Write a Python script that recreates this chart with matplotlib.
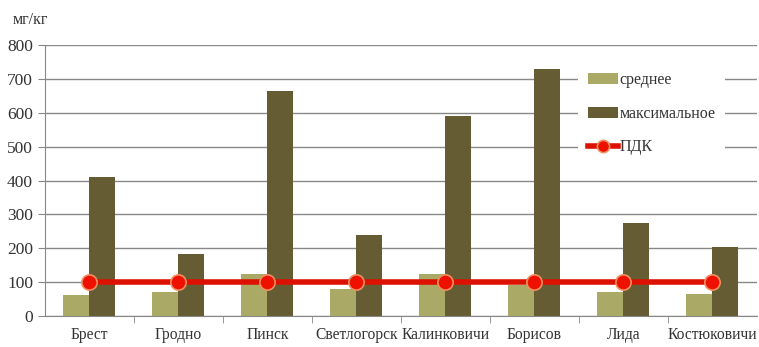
import numpy as np
import matplotlib.pyplot as plt

plt.rcParams['font.family'] = ['Liberation Serif', 'DejaVu Serif']

cities = ["Брест", "Гродно", "Пинск", "Светлогорск", "Калинковичи",
          "Борисов", "Лида", "Костюковичи"]
mean_vals = [62, 71, 124, 80, 124, 91, 71, 65]
max_vals = [410, 183, 664, 239, 590, 729, 274, 203]
pdk_vals = [100, 100, 100, 100, 100, 100, 100, 100]

c_mean = "#aaaa66"
c_max = "#665c34"
c_text = "#333333"

fig = plt.figure(figsize=(7.59, 3.47), dpi=100)
ax = fig.add_axes([0.059, 0.089, 0.938, 0.781])

x = np.arange(len(cities))
w = 0.29
b1 = ax.bar(x - w / 2, mean_vals, w, color=c_mean, label="среднее", zorder=2)
b2 = ax.bar(x + w / 2, max_vals, w, color=c_max, label="максимальное", zorder=2)
ln, = ax.plot(x, pdk_vals, color="#dd1100", lw=4, marker="o", ms=11,
              mfc="#ee1100", mec="#f09060", mew=1.2, label="ПДК", zorder=3)

ax.set_xlim(-0.5, len(cities) - 0.5)
ax.set_ylim(0, 800)
ax.set_yticks(range(0, 801, 100))
ax.yaxis.grid(True, color="#888888", lw=1, zorder=0)
ax.set_axisbelow(True)

ax.set_xticks(x)
ax.set_xticklabels(cities)
ax.set_xticks(np.arange(0.5, len(cities) - 0.5, 1), minor=True)
ax.tick_params(axis="x", which="major", length=0, pad=8, labelsize=11.2, colors=c_text)
ax.tick_params(axis="x", which="minor", length=5, color="#888888")
ax.tick_params(axis="y", length=5, color="#888888", labelsize=12.5, colors=c_text)

for s in ["top", "right"]:
    ax.spines[s].set_visible(False)
for s in ["left", "bottom"]:
    ax.spines[s].set_color("#888888")

fig.text(0.016, 0.93, "мг/кг", fontsize=11.5, color=c_text)

leg = ax.legend([b1, b2, ln], ["среднее", "максимальное", "ПДК"],
                loc="upper left", bbox_to_anchor=(0.738, 0.965), frameon=True,
                fancybox=False, edgecolor="none", facecolor="white", framealpha=1,
                fontsize=11.5, labelspacing=1.1, handlelength=1.9,
                handletextpad=0.1, borderpad=0.6, markerscale=0.8)
for t in leg.get_texts():
    t.set_color(c_text)

fig.savefig("out.png", dpi=100)
